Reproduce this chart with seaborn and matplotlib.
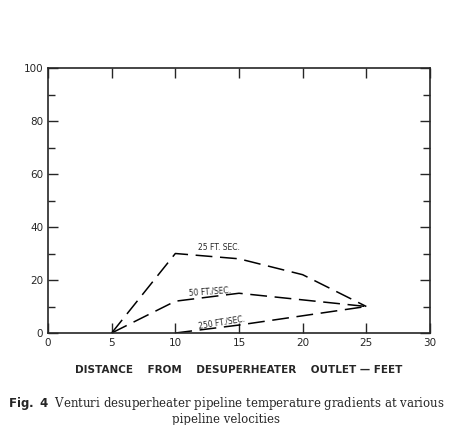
import matplotlib
matplotlib.use("Agg")
import matplotlib.pyplot as plt
import seaborn as sns
import pandas as pd

# values
x_25 = [5, 10, 15, 20, 25]
y_25 = [0, 30, 28, 22, 10]
x_50 = [5, 10, 15, 25]
y_50 = [0, 12, 15, 10]
x_250 = [10, 15, 20, 25]
y_250 = [0, 3, 6.5, 10]

sns.set_style("ticks")
fig = plt.figure(figsize=(4.53, 4.25), dpi=100)
ax = fig.add_axes([48 / 453, 1 - 333 / 425, 382 / 453, 265 / 425])

for xs, ys in [(x_25, y_25), (x_50, y_50), (x_250, y_250)]:
    df = pd.DataFrame({"x": xs, "y": ys})
    sns.lineplot(data=df, x="x", y="y", ax=ax, color="black", lw=1.1,
                 dashes=False, linestyle=(0, (11, 5)))

ax.text(11.8, 31.5, "25 FT. SEC.", fontsize=5.5)
ax.text(11.0, 14.0, "50 FT./SEC.", fontsize=5.5, rotation=4)
ax.text(11.8, 1.6, "250 FT./SEC.", fontsize=5.5, rotation=9)

ax.set_xlim(0, 30)
ax.set_ylim(0, 100)
ax.set_xticks(range(0, 31, 5))
ax.set_yticks(range(0, 101, 20))
ax.set_yticks(range(10, 100, 20), minor=True)
ax.tick_params(direction="in", top=True, right=True, length=7, width=1, labelsize=7.5)
ax.tick_params(which="minor", direction="in", right=True, length=5, width=1)
for s in ax.spines.values():
    s.set_linewidth(1.2)
ax.set_xlabel("DISTANCE    FROM    DESUPERHEATER    OUTLET — FEET",
              fontsize=7.5, fontweight="bold", labelpad=12)
ax.set_ylabel("APPROACH   TEMPERATURE -°F  ABOVE  SATURATION",
              fontsize=7.5, fontweight="bold", labelpad=16)

fig.text(0.5, 1 - 404 / 425, r"$\bf{Fig.\ 4}$  Venturi desuperheater pipeline temperature gradients at various",
         ha="center", va="center", fontsize=8.5, family="DejaVu Serif")
fig.text(0.5, 1 - 419 / 425, "pipeline velocities", ha="center", va="center",
         fontsize=8.5, family="DejaVu Serif")

fig.savefig("out.png", dpi=100)
